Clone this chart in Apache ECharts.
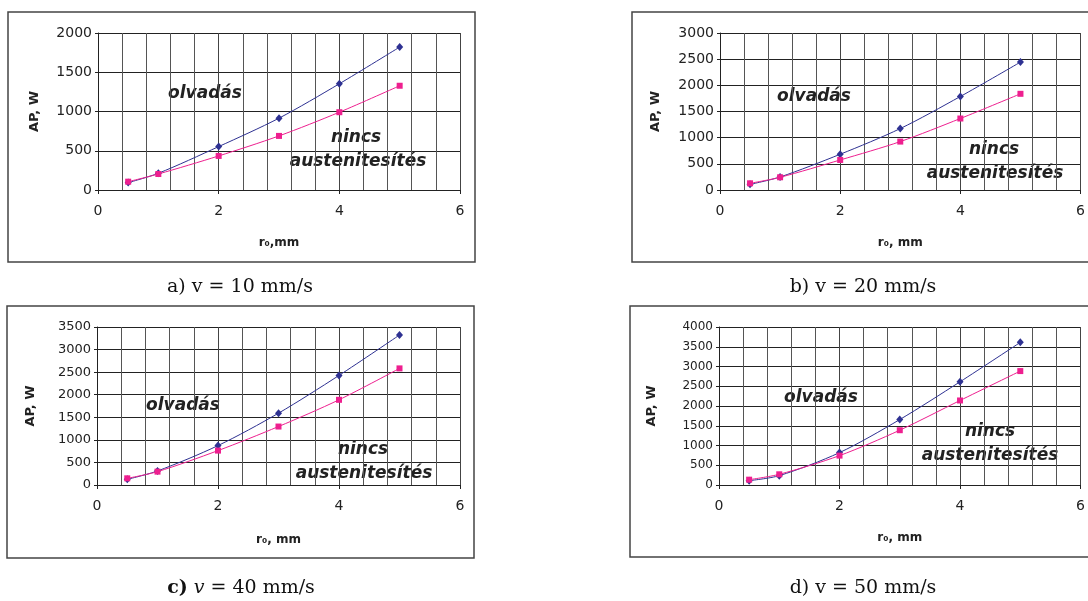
<!DOCTYPE html>
<html>
<head>
<meta charset="utf-8">
<script src="https://cdn.jsdelivr.net/npm/echarts@6/dist/echarts.min.js"></script>
<style>
  html, body { margin: 0; background: #fff; }
  #chart { width: 1088px; height: 601px; }
</style>
</head>
<body>
<div id="chart"></div>
<script>
// Sugár értékek (r0, mm)
const rErtekek = [0.5, 1, 2, 3, 4, 5];

// olvadás határ (kék) és nincs austenitesítés határ (rózsaszín), AP [W]
const olvadasA = [94, 213, 553, 915, 1353, 1821];
const nincsA   = [106, 204, 434, 689, 991, 1328];
const olvadasB = [108, 249, 683, 1174, 1787, 2444];
const nincsB   = [128, 243, 574, 925, 1366, 1838];
const olvadasC = [126, 311, 873, 1591, 2427, 3323];
const nincsC   = [148, 296, 762, 1295, 1887, 2583];
const olvadasD = [110, 237, 820, 1657, 2613, 3611];
const nincsD   = [135, 271, 744, 1387, 2140, 2884];

// Tengely beosztások
const xMin = 0, xMax = 6, xLepes = 2;
const yMaxok = [2000, 3000, 3500, 4000];
const yLepes = 500;

// Feliratok
const xNevek = ["r\u2080,mm", "r\u2080, mm", "r\u2080, mm", "r\u2080, mm"];
const yNev = "AP, W";
const alairasok = ["a) v = 10 mm/s", "b) v = 20 mm/s", "{b|c)} {i|v} = 40 mm/s", "d) v = 50 mm/s"];

const olvadasSorok = [olvadasA, olvadasB, olvadasC, olvadasD];
const nincsSorok = [nincsA, nincsB, nincsC, nincsD];

// Panelek elhelyezése (pixel)
const panelek = [
  { grid: { left: 98, top: 33, width: 362, height: 157 }, doboz: [8, 12, 467, 250], nameGap: 47, yGap: 57, font: 14,
    olv: [205, 94], nin: [356, 138], aus: [358, 162], cap: [240, 287] },
  { grid: { left: 720, top: 33, width: 361, height: 157 }, doboz: [632, 12, 470, 250], nameGap: 47, yGap: 58, font: 14,
    olv: [814, 97], nin: [994, 150], aus: [995, 174], cap: [863, 287] },
  { grid: { left: 97, top: 327, width: 363, height: 158 }, doboz: [7, 306, 467, 252], nameGap: 49, yGap: 60, font: 13,
    olv: [183, 406], nin: [363, 450], aus: [364, 474], cap: [241, 588] },
  { grid: { left: 719, top: 327, width: 363, height: 158 }, doboz: [630, 306, 470, 251], nameGap: 47, yGap: 61, font: 12,
    olv: [821, 398], nin: [990, 432], aus: [990, 456], cap: [863, 588] }
];

const betu = "DejaVu Sans";
const kek = "#2e3192";
const rozsa = "#ee1f8f";

const grids = [], xAxes = [], yAxes = [], series = [], graphic = [];

panelek.forEach((p, i) => {
  grids.push(p.grid);

  xAxes.push({
    type: 'value', gridIndex: i, min: xMin, max: xMax, interval: xLepes,
    name: xNevek[i], nameLocation: 'middle', nameGap: p.nameGap,
    nameTextStyle: { fontFamily: betu, fontWeight: 'bold', fontSize: 12, color: '#222' },
    axisLine: { show: true, onZero: false, lineStyle: { color: '#222', width: 1 } },
    axisTick: { show: true, length: 4, lineStyle: { color: '#222' } },
    axisLabel: { fontFamily: betu, fontSize: 14, color: '#222', margin: 14, formatter: v => String(v) },
    splitLine: { show: true, lineStyle: { color: '#444', width: 1 } },
    minorTick: { show: false, splitNumber: 5 },
    minorSplitLine: { show: true, lineStyle: { color: '#555', width: 1 } }
  });

  yAxes.push({
    type: 'value', gridIndex: i, min: 0, max: yMaxok[i], interval: yLepes,
    name: yNev, nameLocation: 'middle', nameGap: p.yGap, nameRotate: 90,
    nameTextStyle: { fontFamily: betu, fontWeight: 'bold', fontSize: 13, color: '#222' },
    axisLine: { show: true, lineStyle: { color: '#222', width: 1 } },
    axisTick: { show: true, length: 3, lineStyle: { color: '#222' } },
    axisLabel: { fontFamily: betu, fontSize: p.font, color: '#222', margin: 6, formatter: v => String(v) },
    splitLine: { show: true, lineStyle: { color: '#222', width: 1 } }
  });

  series.push({
    type: 'line', xAxisIndex: i, yAxisIndex: i, smooth: 0.3,
    data: rErtekek.map((r, k) => [r, olvadasSorok[i][k]]),
    symbol: 'diamond', symbolSize: [7, 8],
    lineStyle: { color: kek, width: 1 }, itemStyle: { color: kek },
    z: 3
  });
  series.push({
    type: 'line', xAxisIndex: i, yAxisIndex: i, smooth: 0.3,
    data: rErtekek.map((r, k) => [r, nincsSorok[i][k]]),
    symbol: 'rect', symbolSize: 6,
    lineStyle: { color: rozsa, width: 1 }, itemStyle: { color: rozsa },
    z: 4
  });

  // keret a panel körül
  graphic.push({
    type: 'rect', silent: true,
    shape: { x: p.doboz[0], y: p.doboz[1], width: p.doboz[2], height: p.doboz[3] },
    style: { fill: null, stroke: '#444', lineWidth: 1.5 }
  });

  // szöveges tartomány jelölések
  const felirat = (txt, pos) => ({
    type: 'text', silent: true, x: pos[0], y: pos[1],
    style: {
      text: txt, fill: '#222', fontFamily: betu, fontSize: 17, fontWeight: 'bold', fontStyle: 'italic',
      textAlign: 'center', textVerticalAlign: 'middle', align: 'center', verticalAlign: 'middle'
    }
  });
  graphic.push(felirat('olvadás', p.olv));
  graphic.push(felirat('nincs', p.nin));
  graphic.push(felirat('austenitesítés', p.aus));

  // alcím a panel alatt
  graphic.push({
    type: 'text', silent: true, x: p.cap[0], y: p.cap[1],
    style: {
      text: alairasok[i], fill: '#111', fontFamily: 'DejaVu Serif', fontSize: 19,
      textAlign: 'center', textVerticalAlign: 'middle', align: 'center', verticalAlign: 'middle',
      rich: {
        b: { fontFamily: 'DejaVu Serif', fontSize: 19, fontWeight: 'bold', fill: '#111' },
        i: { fontFamily: 'DejaVu Serif', fontSize: 19, fontStyle: 'italic', fill: '#111' }
      }
    }
  });
});

const chart = echarts.init(document.getElementById('chart'), null, { renderer: 'canvas' });
chart.setOption({
  backgroundColor: '#fff',
  animation: false,
  grid: grids,
  xAxis: xAxes,
  yAxis: yAxes,
  series: series,
  graphic: graphic
});
</script>
</body>
</html>
